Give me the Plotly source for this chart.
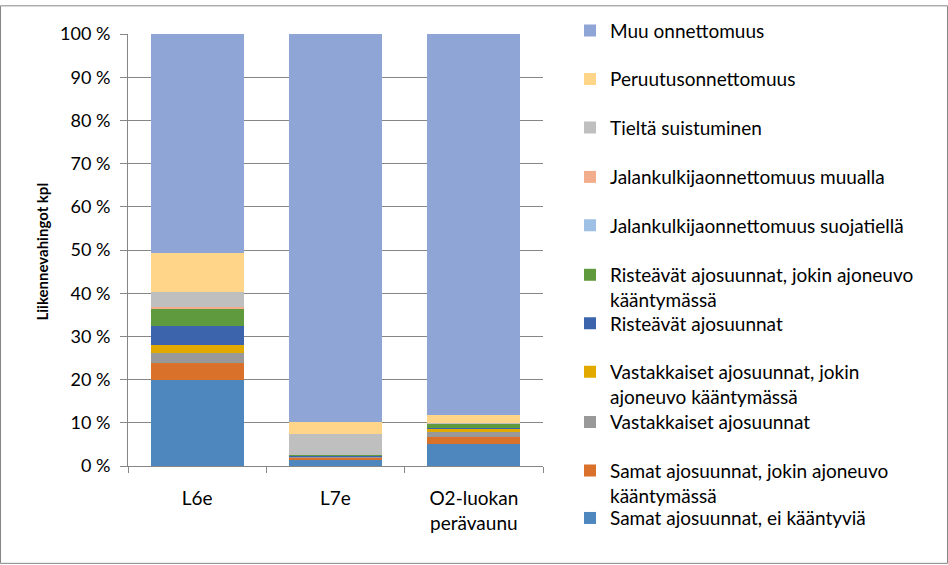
import plotly.graph_objects as go

categories = ["L6e", "L7e", "O2-luokan<br>perävaunu"]

series_names = [
    "Samat ajosuunnat, ei kääntyviä",
    "Samat ajosuunnat, jokin ajoneuvo<br>kääntymässä",
    "Vastakkaiset ajosuunnat",
    "Vastakkaiset ajosuunnat, jokin<br>ajoneuvo kääntymässä",
    "Risteävät ajosuunnat",
    "Risteävät ajosuunnat, jokin ajoneuvo<br>kääntymässä",
    "Jalankulkijaonnettomuus suojatiellä",
    "Jalankulkijaonnettomuus muualla",
    "Tieltä suistuminen",
    "Peruutusonnettomuus",
    "Muu onnettomuus",
]

samat_ei = [19.8, 1.4, 5.2]
samat_jokin = [4.1, 0.5, 1.5]
vastakkaiset = [2.2, 0.2, 1.2]
vastakkaiset_jokin = [1.8, 0.2, 0.7]
risteavat = [4.6, 0.2, 0.3]
risteavat_jokin = [3.9, 0.1, 0.9]
suojatiella = [0.0, 0.0, 0.0]
muualla = [0.3, 0.0, 0.1]
tielta = [3.6, 4.7, 0.1]
peruutus = [8.9, 3.0, 1.7]
muu = [50.8, 89.7, 88.3]

series_values = [samat_ei, samat_jokin, vastakkaiset, vastakkaiset_jokin,
                 risteavat, risteavat_jokin, suojatiella, muualla,
                 tielta, peruutus, muu]

colors = ["#4E87BE", "#D9712A", "#999999", "#E2AA00", "#3B64AD", "#5F9A3E",
          "#9DC0E4", "#F2AE8C", "#BFBFBF", "#FFD58A", "#8FA5D6"]

# legend entry first-line centres (px from top), Samat ei ... Muu
legend_centres = [519, 471, 422, 371, 322, 273, 223, 174, 124, 75, 26]

y_ticks = list(range(0, 101, 10))
y_ticklabels = [f"{v} %" for v in y_ticks]

FONT = "Lato"
L, R, T, B = 128, 405, 29, 99
W, H = 948, 565
PW, PH = W - L - R, H - T - B

fig = go.Figure()
legend_layouts = {}
for i, (name, vals, col, yc) in enumerate(zip(series_names, series_values, colors, legend_centres)):
    key = "legend" if i == 0 else f"legend{i + 1}"
    fig.add_trace(go.Bar(
        x=categories, y=vals, name=name, marker_color=col,
        marker_line_width=0, legend=key,
    ))
    legend_layouts[key] = dict(
        x=(570 - L) / PW, xanchor="left",
        y=(H - B - (yc - 19.5)) / PH, yanchor="top",
        font=dict(family=FONT, size=19, color="black"),
        valign="top", bgcolor="rgba(0,0,0,0)", borderwidth=0,
    )

fig.update_layout(
    barmode="stack",
    bargap=0.33,
    width=W, height=H,
    margin=dict(l=L, r=R, t=T, b=B),
    plot_bgcolor="white", paper_bgcolor="white",
    font=dict(family=FONT, size=18, color="black"),
    showlegend=True,
    xaxis=dict(
        showline=True, linecolor="#868686", linewidth=1,
        ticks="outside", tickson="boundaries", ticklen=6, tickcolor="#868686",
        tickfont=dict(family=FONT, size=19, color="black"),
        ticklabelstandoff=15,
    ),
    yaxis=dict(
        range=[0, 100], tickvals=y_ticks, ticktext=y_ticklabels,
        showline=True, linecolor="#868686", linewidth=1,
        showgrid=True, gridcolor="#868686", gridwidth=1,
        ticks="outside", ticklen=7, tickcolor="#868686",
        tickfont=dict(family=FONT, size=18, color="black"),
        ticklabelstandoff=6,
        zeroline=False,
    ),
    annotations=[dict(
        text="<b>Liikennevahingot kpl</b>", textangle=-90,
        xref="paper", yref="paper",
        x=(42 - L) / PW, y=(H - B - 249) / PH,
        xanchor="center", yanchor="middle", showarrow=False,
        font=dict(family=FONT, size=15, color="black"),
    )],
    shapes=[dict(type="rect", xref="paper", yref="paper",
                 x0=-(L - 0.5) / PW, x1=(W - 0.5 - L) / PW,
                 y0=-(B - 0.5) / PH, y1=1 + (T - 0.5) / PH,
                 line=dict(color="#868686", width=1), layer="below")],
    **legend_layouts,
)

fig.write_html("out.html", config={"displayModeBar": False},
               post_script="document.body.style.margin='0';document.body.style.overflow='hidden';")
